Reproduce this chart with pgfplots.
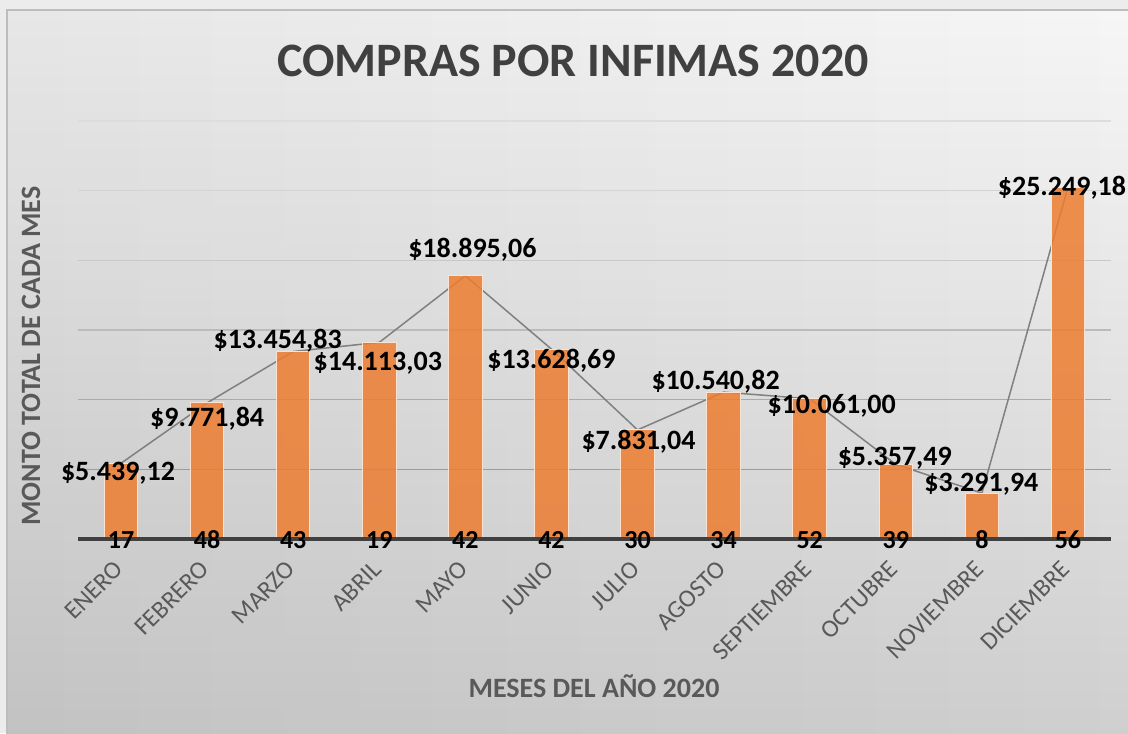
\documentclass[border=0pt]{standalone}
\usepackage{pgfplots}
\pgfplotsset{compat=1.18}
\usepackage{fontspec}
\setmainfont{Carlito}
\usetikzlibrary{fadings}
\definecolor{barorange}{HTML}{ED7D31}
\definecolor{barborder}{HTML}{FBE3D3}
\definecolor{linegray}{HTML}{808080}
\definecolor{titlegray}{HTML}{404040}
\definecolor{tickgray}{HTML}{595959}
\definecolor{outerbg}{HTML}{ECECEC}
\definecolor{bgtop}{HTML}{F6F6F6}
\definecolor{bgbottom}{HTML}{CFCFCF}
\definecolor{framegray}{HTML}{BDBDBD}
\definecolor{gridA}{HTML}{9C9C9C}
\definecolor{gridB}{HTML}{AAAAAA}
\definecolor{gridC}{HTML}{BBBBBB}
\definecolor{gridD}{HTML}{C8C8C8}
\definecolor{gridE}{HTML}{D4D4D4}
\definecolor{gridF}{HTML}{DDDDDD}
\tikzfading[name=leftdark, left color=transparent!94, middle color=transparent!100, right color=transparent!100]
\begin{document}
\begin{tikzpicture}[
  vlabel/.style={anchor=base, inner sep=0pt, text=black, font=\bfseries\fontsize{14}{16}\selectfont},
  clabel/.style={anchor=base, inner sep=0pt, text=black, font=\bfseries\fontsize{13}{15}\selectfont, yshift=-4.8pt}]
\useasboundingbox (0pt,0pt) rectangle (564pt,366.5pt);
\fill[outerbg] (0pt,0pt) rectangle (564pt,366.5pt);
\shade[top color=bgtop, bottom color=bgbottom] (3.5pt,-2pt) rectangle (566pt,361.5pt);
\fill[black, path fading=leftdark] (3.5pt,-2pt) rectangle (566pt,361.5pt);
\draw[framegray, line width=0.6pt] (3.5pt,-2pt) rectangle (566pt,361.5pt);
\node[anchor=base, inner sep=0pt, text=titlegray, font=\bfseries\fontsize{24}{28}\selectfont] at (286.5pt,328pt) {COMPRAS POR INFIMAS 2020};
\node[anchor=base, rotate=90, inner sep=0pt, text=tickgray, font=\bfseries\fontsize{14}{16}\selectfont] at (20pt,188.5pt) {MONTO TOTAL DE CADA MES};
\node[anchor=base, inner sep=0pt, text=tickgray, font=\bfseries\fontsize{14}{16}\selectfont] at (297pt,18pt) {MESES DEL AÑO 2020};
\begin{axis}[
  at={(39pt,97pt)}, anchor=south west,
  scale only axis, width=516.5pt, height=209pt,
  xmin=-0.5, xmax=11.5, ymin=0, ymax=30000,
  axis line style={draw=none},
  major tick length=0pt,
  ytick=\empty,
  xtick={0,...,11},
  xticklabels={ENERO,FEBRERO,MARZO,ABRIL,MAYO,JUNIO,JULIO,AGOSTO,SEPTIEMBRE,OCTUBRE,NOVIEMBRE,DICIEMBRE},
  xticklabel style={xshift=-4pt, yshift=-10pt, rotate=45, anchor=north east, inner sep=0pt, text=tickgray, font=\fontsize{12.5}{14}\selectfont},
  clip=false,
]
\draw[gridA, line width=0.7pt] (axis cs:-0.5,5000) -- (axis cs:11.5,5000);
\draw[gridB, line width=0.7pt] (axis cs:-0.5,10000) -- (axis cs:11.5,10000);
\draw[gridC, line width=0.7pt] (axis cs:-0.5,15000) -- (axis cs:11.5,15000);
\draw[gridD, line width=0.7pt] (axis cs:-0.5,20000) -- (axis cs:11.5,20000);
\draw[gridE, line width=0.7pt] (axis cs:-0.5,25000) -- (axis cs:11.5,25000);
\draw[gridF, line width=0.7pt] (axis cs:-0.5,30000) -- (axis cs:11.5,30000);
\addplot[draw=linegray, line width=0.75pt, mark=none] coordinates {
(0,5439.12) (1,9771.84) (2,13454.83) (3,14113.03) (4,18895.06) (5,13628.69)
(6,7831.04) (7,10540.82) (8,10061.00) (9,5357.49) (10,3291.94) (11,25249.18)};
\addplot[ybar, bar width=0.39, fill=barorange, fill opacity=0.85, draw=barborder, line width=0.5pt] coordinates {
(0,5439.12) (1,9771.84) (2,13454.83) (3,14113.03) (4,18895.06) (5,13628.69)
(6,7831.04) (7,10540.82) (8,10061.00) (9,5357.49) (10,3291.94) (11,25249.18)};
\draw[titlegray, line width=2pt] (axis cs:-0.5,0) -- (axis cs:11.5,0);
\node[vlabel, xshift=-1.5pt, yshift=-8.4pt] at (axis cs:0,5439.12) {\$5.439,12};
\node[vlabel, xshift=0pt, yshift=-11.6pt] at (axis cs:1,9771.84) {\$9.771,84};
\node[vlabel, xshift=-7.75pt, yshift=1.75pt] at (axis cs:2,13454.83) {\$13.454,83};
\node[vlabel, xshift=-0.75pt, yshift=-14.3pt] at (axis cs:3,14113.03) {\$14.113,03};
\node[vlabel, xshift=3.5pt, yshift=9.35pt] at (axis cs:4,18895.06) {\$18.895,06};
\node[vlabel, xshift=0pt, yshift=-9.45pt] at (axis cs:5,13628.69) {\$13.628,69};
\node[vlabel, xshift=0.5pt, yshift=-10.05pt] at (axis cs:6,7831.04) {\$7.831,04};
\node[vlabel, xshift=-4pt, yshift=1.55pt] at (axis cs:7,10540.82) {\$10.540,82};
\node[vlabel, xshift=11pt, yshift=-7.1pt] at (axis cs:8,10061.00) {\$10.061,00};
\node[vlabel, xshift=-0.5pt, yshift=-0.8pt] at (axis cs:9,5357.49) {\$5.357,49};
\node[vlabel, xshift=-0.25pt, yshift=1.05pt] at (axis cs:10,3291.94) {\$3.291,94};
\node[vlabel, xshift=-3pt, yshift=-4.4pt] at (axis cs:11,25249.18) {\$25.249,18};
\node[clabel] at (axis cs:0,0) {17};
\node[clabel] at (axis cs:1,0) {48};
\node[clabel] at (axis cs:2,0) {43};
\node[clabel] at (axis cs:3,0) {19};
\node[clabel] at (axis cs:4,0) {42};
\node[clabel] at (axis cs:5,0) {42};
\node[clabel] at (axis cs:6,0) {30};
\node[clabel] at (axis cs:7,0) {34};
\node[clabel] at (axis cs:8,0) {52};
\node[clabel] at (axis cs:9,0) {39};
\node[clabel] at (axis cs:10,0) {8};
\node[clabel] at (axis cs:11,0) {56};
\end{axis}
\end{tikzpicture}
\end{document}
